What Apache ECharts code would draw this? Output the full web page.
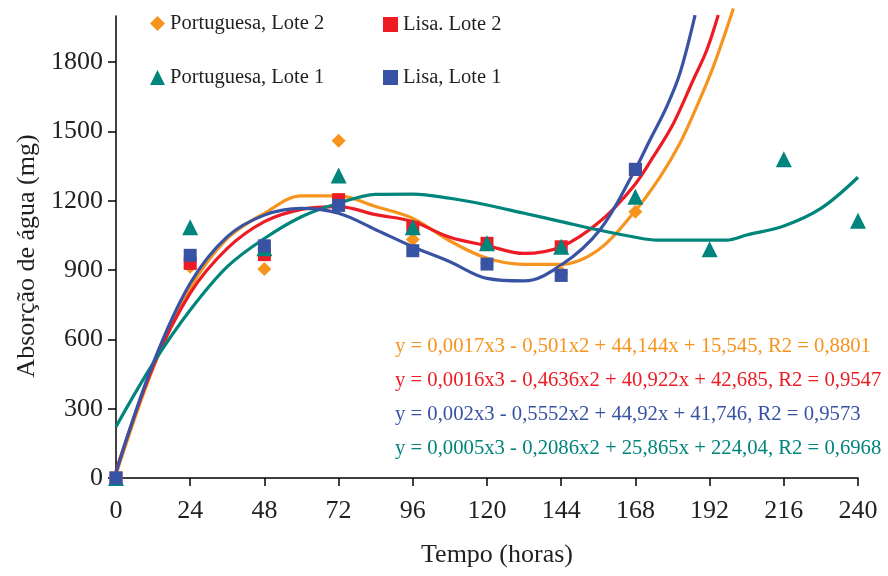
<!DOCTYPE html>
<html>
<head>
<meta charset="utf-8">
<script src="https://cdn.jsdelivr.net/npm/echarts@6/dist/echarts.min.js"></script>
<style>html,body{margin:0;padding:0;background:#fff;}#c{width:888px;height:576px;}</style>
</head>
<body>
<div id="c"></div>
<script>
// ---- data ----
const xHours = [0, 24, 48, 72, 96, 120, 144, 168];
const portLote2 = [0, 915, 905, 1460, 1033, 930, 890, 1153];
const lisaLote2 = [0, 929, 967, 1205, 1085, 1016, 1001, 1336];
const lisaLote1 = [0, 964, 1005, 1180, 984, 926, 877, 1336];
const xHoursPL1 = [0, 24, 48, 72, 96, 120, 144, 168, 192, 216, 240];
const portLote1 = [0, 1085, 995, 1309, 1085, 1016, 1001, 1218, 990, 1380, 1114];

// trend curves
const trendOrangeX = [0, 12, 24, 36, 48, 60, 72, 84, 96, 108, 120, 132, 144, 156, 167.3, 176, 182.4, 187.8, 193.2, 199.7];
const trendOrangeY = [15, 476, 822, 1037, 1146, 1221, 1221, 1175, 1124, 1026, 951, 925, 925, 987, 1146, 1304, 1449, 1607, 1781, 2033];
const trendRedX = [0, 12, 24, 36, 48, 60, 72, 84, 96, 108, 120, 132, 144, 156.5, 167.3, 173.8, 180.3, 186.7, 191.1, 194.8];
const trendRedY = [30, 482, 800, 994, 1110, 1163, 1175, 1140, 1110, 1042, 1006, 972, 1001, 1110, 1261, 1391, 1535, 1723, 1853, 2004];
const trendBlueX = [0, 12, 24, 36, 48, 60, 72, 84, 96, 108, 120, 132, 144, 156.5, 167.3, 172.7, 178.1, 182.4, 187.3];
const trendBlueY = [25, 496, 843, 1045, 1138, 1167, 1146, 1075, 1001, 936, 864, 853, 922, 1074, 1319, 1463, 1607, 1752, 2004];
const trendTealX = [0, 12, 24, 36, 48, 60, 72, 84, 96, 108, 120, 132, 144, 156, 168, 175, 186, 197.5, 204, 216, 228, 240];
const trendTealY = [222, 496, 727, 915, 1037, 1131, 1189, 1228, 1229, 1211, 1182, 1146, 1110, 1074, 1042, 1030, 1030, 1030, 1052, 1091, 1167, 1302];

const xTicks = [0, 24, 48, 72, 96, 120, 144, 168, 192, 216, 240];
const yTicks = [0, 300, 600, 900, 1200, 1500, 1800];

const names = ['Portuguesa, Lote 2', 'Lisa. Lote 2', 'Portuguesa, Lote 1', 'Lisa, Lote 1'];
const equations = [
  'y = 0,0017x3 - 0,501x2 + 44,144x + 15,545, R2 = 0,8801',
  'y = 0,0016x3 - 0,4636x2 + 40,922x + 42,685, R2 = 0,9547',
  'y = 0,002x3 - 0,5552x2 + 44,92x + 41,746, R2 = 0,9573',
  'y = 0,0005x3 - 0,2086x2 + 25,865x + 224,04, R2 = 0,6968'
];

const C = { orange: '#F7941D', red: '#ED1C24', teal: '#00857C', blue: '#3953A4' };
const FONT = '"Liberation Serif", "Times New Roman", serif';
const TXT = '#231F20';

const zip = (xs, ys) => xs.map((x, i) => [x, ys[i]]);

const chart = echarts.init(document.getElementById('c'), null, { renderer: 'canvas' });

function trend(name, xs, ys, color) {
  return {
    name: name, type: 'line', data: zip(xs, ys), smooth: 0.35, showSymbol: false,
    symbol: 'none', clip: false, silent: true, z: 2,
    lineStyle: { color: color, width: 3.2 }, itemStyle: { color: color }
  };
}
function pts(name, xs, ys, color, symbol, size) {
  return {
    name: name, type: 'scatter', data: zip(xs, ys), symbol: symbol, symbolSize: size,
    itemStyle: { color: color, opacity: 1 }, z: 3, clip: false
  };
}
function leg(name, left, top) {
  return {
    data: [name], left: left, top: top, orient: 'horizontal',
    itemWidth: 15, itemHeight: 15, itemGap: 0, selectedMode: false,
    textStyle: { fontFamily: FONT, fontSize: 20.5, color: TXT }
  };
}

const option = {
  animation: false,
  backgroundColor: '#fff',
  grid: { left: 116, right: 30, top: 16, bottom: 98, containLabel: false },
  xAxis: {
    type: 'value', min: 0, max: 240, interval: 24,
    name: 'Tempo (horas)', nameLocation: 'middle', nameGap: 64,
    nameTextStyle: { fontFamily: FONT, fontSize: 26, color: TXT, padding: [0, 0, 0, 20] },
    axisLine: { show: true, lineStyle: { color: '#000', width: 1.5 } },
    axisTick: { show: true, inside: false, length: 8, lineStyle: { color: '#000', width: 1.5 } },
    axisLabel: { fontFamily: FONT, fontSize: 26, color: TXT, margin: 20, formatter: v => String(v) },
    splitLine: { show: false }
  },
  yAxis: {
    type: 'value', min: 0, max: 2000, interval: 300,
    name: 'Absorção de água (mg)', nameLocation: 'middle', nameGap: 75, nameRotate: 90,
    nameTextStyle: { fontFamily: FONT, fontSize: 26, color: TXT, padding: [0, 18, 0, 0] },
    axisLine: { show: true, lineStyle: { color: '#000', width: 1.5 } },
    axisTick: { show: true, inside: false, length: 8, customValues: yTicks, lineStyle: { color: '#000', width: 1.5 } },
    axisLabel: { fontFamily: FONT, fontSize: 26, color: TXT, margin: 13, customValues: yTicks, formatter: v => String(v) },
    splitLine: { show: false }
  },
  legend: [
    leg(names[0], 145, 8),
    leg(names[1], 378, 9),
    leg(names[2], 145, 62),
    leg(names[3], 378, 62)
  ],
  graphic: [
    { type: 'text', left: 395, top: 336, style: { text: equations[0], fill: C.orange, font: '20.7px ' + FONT } },
    { type: 'text', left: 395, top: 370, style: { text: equations[1], fill: C.red, font: '20.7px ' + FONT } },
    { type: 'text', left: 395, top: 404, style: { text: equations[2], fill: C.blue, font: '20.7px ' + FONT } },
    { type: 'text', left: 395, top: 438, style: { text: equations[3], fill: C.teal, font: '20.7px ' + FONT } }
  ],
  series: [
    trend('trend PL2', trendOrangeX, trendOrangeY, C.orange),
    trend('trend LL2', trendRedX, trendRedY, C.red),
    trend('trend PL1', trendTealX, trendTealY, C.teal),
    trend('trend LL1', trendBlueX, trendBlueY, C.blue),
    pts(names[0], xHours, portLote2, C.orange, 'diamond', 14),
    pts(names[1], xHours, lisaLote2, C.red, 'rect', 13),
    pts(names[2], xHoursPL1, portLote1, C.teal, 'triangle', 16),
    pts(names[3], xHours, lisaLote1, C.blue, 'rect', 13)
  ]
};
chart.setOption(option);
</script>
</body>
</html>
